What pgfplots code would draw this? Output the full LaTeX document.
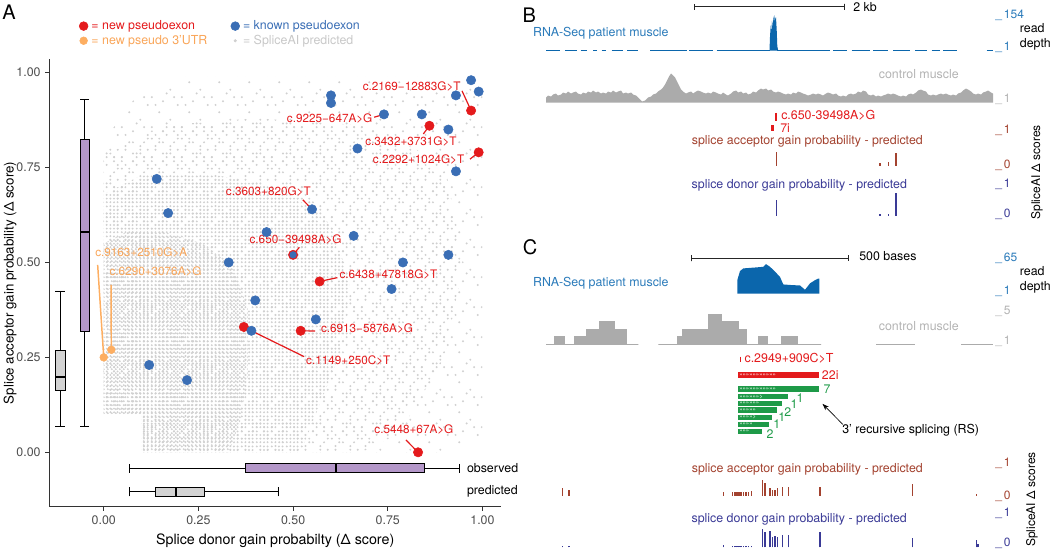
\documentclass[border=0pt]{standalone}
\usepackage{pgfplots}
\pgfplotsset{compat=1.18}
\usepgfplotslibrary{statistics}
\usetikzlibrary{patterns,arrows.meta}
\usepackage{fontspec}
\setmainfont{TeX Gyre Heros}

\definecolor{ptred}{HTML}{E41A1C}
\definecolor{ptblue}{HTML}{3A6EB5}
\definecolor{ptorange}{HTML}{FDAE61}
\definecolor{txtorange}{HTML}{F9A65A}
\definecolor{boxpurple}{HTML}{B497C9}
\definecolor{boxgray}{HTML}{D3D3D3}
\definecolor{dotgray}{HTML}{D0D0D0}
\definecolor{legtxtgray}{HTML}{C8C8C8}
\definecolor{axgray}{HTML}{4D4D4D}
\definecolor{rnatext}{HTML}{2B7BBA}
\definecolor{rnafill}{HTML}{0B66AC}
\definecolor{ctrlfill}{HTML}{ABABAB}
\definecolor{ctrltext}{HTML}{B3B3B3}
\definecolor{acc}{HTML}{A3422F}
\definecolor{don}{HTML}{3A3A96}
\definecolor{gtxred}{HTML}{E31A1C}
\definecolor{exgreen}{HTML}{1E9A48}

\newcommand\ft{\fontsize{9.3}{11}\selectfont}
\newcommand\fsm{\fontsize{9}{10}\selectfont}
\newcommand\fpanel{\fontsize{15}{17}\selectfont}
\newcommand\flab{\fontsize{10.7}{12}\selectfont}
\newcommand\fann{\fontsize{8.8}{10}\selectfont}
\newcommand\fchev{\fontsize{4.5}{4.5}\selectfont}

% grid-dot textures for the SpliceAI predicted cloud (0.01 grid)
\pgfdeclarepatternformonly{gdense}{\pgfpointorigin}{\pgfqpoint{2.84pt}{2.84pt}}{\pgfqpoint{2.84pt}{2.84pt}}{%
 \pgfpathcircle{\pgfqpoint{1.42pt}{1.42pt}}{0.85pt}\pgfusepath{fill}}
\pgfdeclarepatternformonly{gmed}{\pgfpointorigin}{\pgfqpoint{11.36pt}{11.36pt}}{\pgfqpoint{11.36pt}{11.36pt}}{%
 \pgfpathcircle{\pgfqpoint{1.42pt}{1.42pt}}{0.85pt}
 \pgfpathcircle{\pgfqpoint{4.26pt}{1.42pt}}{0.85pt}
 \pgfpathcircle{\pgfqpoint{9.94pt}{1.42pt}}{0.85pt}
 \pgfpathcircle{\pgfqpoint{1.42pt}{4.26pt}}{0.85pt}
 \pgfpathcircle{\pgfqpoint{4.26pt}{4.26pt}}{0.85pt}
 \pgfpathcircle{\pgfqpoint{7.10pt}{4.26pt}}{0.85pt}
 \pgfpathcircle{\pgfqpoint{9.94pt}{4.26pt}}{0.85pt}
 \pgfpathcircle{\pgfqpoint{4.26pt}{7.10pt}}{0.85pt}
 \pgfpathcircle{\pgfqpoint{7.10pt}{7.10pt}}{0.85pt}
 \pgfpathcircle{\pgfqpoint{9.94pt}{7.10pt}}{0.85pt}
 \pgfpathcircle{\pgfqpoint{1.42pt}{9.94pt}}{0.85pt}
 \pgfpathcircle{\pgfqpoint{7.10pt}{9.94pt}}{0.85pt}
 \pgfpathcircle{\pgfqpoint{9.94pt}{9.94pt}}{0.85pt}
 \pgfusepath{fill}}
\pgfdeclarepatternformonly{gsparse}{\pgfpointorigin}{\pgfqpoint{22.72pt}{22.72pt}}{\pgfqpoint{22.72pt}{22.72pt}}{%
 \pgfpathcircle{\pgfqpoint{1.42pt}{1.42pt}}{0.85pt}
 \pgfpathcircle{\pgfqpoint{12.78pt}{1.42pt}}{0.85pt}
 \pgfpathcircle{\pgfqpoint{18.46pt}{1.42pt}}{0.85pt}
 \pgfpathcircle{\pgfqpoint{9.94pt}{4.26pt}}{0.85pt}
 \pgfpathcircle{\pgfqpoint{15.62pt}{4.26pt}}{0.85pt}
 \pgfpathcircle{\pgfqpoint{4.26pt}{7.10pt}}{0.85pt}
 \pgfpathcircle{\pgfqpoint{21.30pt}{7.10pt}}{0.85pt}
 \pgfpathcircle{\pgfqpoint{4.26pt}{9.94pt}}{0.85pt}
 \pgfpathcircle{\pgfqpoint{15.62pt}{9.94pt}}{0.85pt}
 \pgfpathcircle{\pgfqpoint{9.94pt}{12.78pt}}{0.85pt}
 \pgfpathcircle{\pgfqpoint{18.46pt}{12.78pt}}{0.85pt}
 \pgfpathcircle{\pgfqpoint{1.42pt}{15.62pt}}{0.85pt}
 \pgfpathcircle{\pgfqpoint{7.10pt}{15.62pt}}{0.85pt}
 \pgfpathcircle{\pgfqpoint{21.30pt}{15.62pt}}{0.85pt}
 \pgfpathcircle{\pgfqpoint{12.78pt}{18.46pt}}{0.85pt}
 \pgfpathcircle{\pgfqpoint{1.42pt}{21.30pt}}{0.85pt}
 \pgfpathcircle{\pgfqpoint{9.94pt}{21.30pt}}{0.85pt}
 \pgfpathcircle{\pgfqpoint{18.46pt}{21.30pt}}{0.85pt}
 \pgfusepath{fill}}
\pgfdeclarepatternformonly{gvsparse}{\pgfpointorigin}{\pgfqpoint{22.72pt}{22.72pt}}{\pgfqpoint{22.72pt}{22.72pt}}{%
 \pgfpathcircle{\pgfqpoint{1.42pt}{1.42pt}}{0.85pt}
 \pgfpathcircle{\pgfqpoint{15.62pt}{7.10pt}}{0.85pt}
 \pgfpathcircle{\pgfqpoint{7.10pt}{12.78pt}}{0.85pt}
 \pgfpathcircle{\pgfqpoint{21.30pt}{18.46pt}}{0.85pt}
 \pgfpathcircle{\pgfqpoint{9.94pt}{21.30pt}}{0.85pt}
 \pgfpathcircle{\pgfqpoint{18.46pt}{1.42pt}}{0.85pt}
 \pgfpathcircle{\pgfqpoint{4.26pt}{18.46pt}}{0.85pt}
 \pgfpathcircle{\pgfqpoint{12.78pt}{4.26pt}}{0.85pt}
 \pgfusepath{fill}}

\pgfplotsset{trk/.style={scale only axis, hide axis, clip=false, xmin=546, xmax=993, width=335.25pt, anchor=south west}}

\begin{document}
\begin{tikzpicture}
\useasboundingbox (0,0) rectangle (787.5pt,-411.75pt);

% ================= Panel A =================
\begin{axis}[
  at={(36.98pt,-380.03pt)}, anchor=south west,
  scale only axis, width=338.78pt, height=335.55pt,
  xmin=-0.1437, xmax=1.049, ymin=-0.1433, ymax=1.035,
  axis x line*=bottom, axis y line*=left,
  axis line style={-, black!80, line width=1pt},
  xtick={0,0.25,0.5,0.75,1}, xticklabels={0.00,0.25,0.50,0.75,1.00},
  ytick={0,0.25,0.5,0.75,1}, yticklabels={0.00,0.25,0.50,0.75,1.00},
  tick align=outside, major tick length=3pt,
  tick style={black!80, line width=0.6pt},
  ticklabel style={font=\ft, text=axgray},
  xlabel={Splice donor gain probabilty (Δ score)},
  ylabel={Splice acceptor gain probability (Δ score)},
  label style={font=\flab},
  every axis y label/.style={at={(axis description cs:-0.087,0.5)}, rotate=90, anchor=center},
  clip=false,
  legend columns=2, legend cell align=left,
  legend image code/.code={\path[draw=none,fill=none] (0cm,-0.02cm) rectangle (0.32cm,0.02cm); \draw[mark repeat=2,mark phase=2,#1] plot coordinates {(0.16cm,0cm) (0.16cm,0cm) (0.16cm,0cm)};},
  legend style={at={(axis description cs:0.062,1.091)}, anchor=north west, draw=none, fill=none,
     font=\ft, inner sep=0pt, row sep=0pt, nodes={inner sep=1.3pt},
     /tikz/every even column/.append style={column sep=15pt}},
]
\addlegendimage{only marks, mark=*, color=ptred, mark size=3.3pt}
\addlegendentry{\color{ptred}= new pseudoexon}
\addlegendimage{only marks, mark=*, color=ptblue, mark size=3.3pt}
\addlegendentry{\color{ptblue}= known pseudoexon}
\addlegendimage{only marks, mark=*, color=ptorange, mark size=2.9pt}
\addlegendentry{\color{txtorange}= new pseudo 3’UTR}
\addlegendimage{only marks, mark=*, color=dotgray, mark size=1pt}
\addlegendentry{\color{legtxtgray}= SpliceAI predicted}

% SpliceAI predicted cloud (density zones)
\addplot[draw=none, pattern=gvsparse, pattern color=dotgray] coordinates {(0,0.1) (0,0.82) (0.08,0.93) (0.2,0.99) (1.0,0.99) (1.0,0.03) (0.9,0.0) (0.1,0.0) (0.1,0.1)} -- cycle;
\addplot[draw=none, pattern=gsparse, pattern color=dotgray] coordinates {(0,0.1) (0,0.78) (0.15,0.86) (0.4,0.88) (0.7,0.86) (0.9,0.76) (0.95,0.5) (0.9,0.25) (0.78,0.05) (0.68,0.0) (0.1,0.0) (0.1,0.1)} -- cycle;
\addplot[draw=none, pattern=gmed, pattern color=dotgray] coordinates {(0,0.1) (0,0.68) (0.1,0.73) (0.3,0.73) (0.48,0.69) (0.6,0.6) (0.65,0.45) (0.62,0.25) (0.56,0.1) (0.52,0.0) (0.1,0.0) (0.1,0.1)} -- cycle;
\addplot[draw=none, pattern=gdense, pattern color=dotgray] coordinates {(0,0.1) (0,0.55) (0.06,0.58) (0.16,0.58) (0.26,0.55) (0.34,0.49) (0.38,0.38) (0.38,0.2) (0.36,0.08) (0.33,0.0) (0.1,0.0) (0.1,0.1)} -- cycle;

% box plots
\addplot[draw=black, fill=boxgray, line width=0.6pt, boxplot prepared={draw direction=y, draw position=-0.115,
  lower whisker=0.068, lower quartile=0.164, median=0.198, upper quartile=0.268, upper whisker=0.425,
  box extend=0.0256, whisker extend=0.0256, every median/.style={line width=1.3pt}}] coordinates {};
\addplot[draw=black, fill=boxpurple, line width=0.6pt, boxplot prepared={draw direction=y, draw position=-0.050,
  lower whisker=0.068, lower quartile=0.318, median=0.580, upper quartile=0.825, upper whisker=0.930,
  box extend=0.0238, whisker extend=0.0238, every median/.style={line width=1.3pt}}] coordinates {};
\addplot[draw=black, fill=boxpurple, line width=0.6pt, boxplot prepared={draw direction=x, draw position=-0.042,
  lower whisker=0.067, lower quartile=0.373, median=0.613, upper quartile=0.847, upper whisker=0.940,
  box extend=0.0229, whisker extend=0.0229, every median/.style={line width=1.3pt}}] coordinates {};
\addplot[draw=black, fill=boxgray, line width=0.6pt, boxplot prepared={draw direction=x, draw position=-0.104,
  lower whisker=0.067, lower quartile=0.137, median=0.190, upper quartile=0.267, upper whisker=0.460,
  box extend=0.0245, whisker extend=0.0245, every median/.style={line width=1.3pt}}] coordinates {};
\node[anchor=west, font=\ft, inner sep=0pt] at (axis cs:0.9585,-0.042) {observed};
\node[anchor=west, font=\ft, inner sep=0pt] at (axis cs:0.9585,-0.104) {predicted};

% label leader lines
\draw[ptred, line width=0.9pt] (axis cs:0.946,0.952) -- (axis cs:0.97,0.90);
\draw[ptred, line width=0.9pt] (axis cs:0.714,0.8825) -- (axis cs:0.74,0.89);
\draw[ptred, line width=0.9pt] (axis cs:0.844,0.8385) -- (axis cs:0.86,0.86);
\draw[ptred, line width=0.9pt] (axis cs:0.967,0.772) -- (axis cs:0.99,0.79);
\draw[ptred, line width=0.9pt] (axis cs:0.5255,0.665) -- (axis cs:0.55,0.64);
\draw[ptred, line width=0.9pt] (axis cs:0.5165,0.540) -- (axis cs:0.50,0.52);
\draw[ptred, line width=0.9pt] (axis cs:0.57,0.45) -- (axis cs:0.617,0.46);
\draw[ptred, line width=0.9pt] (axis cs:0.52,0.32) -- (axis cs:0.558,0.3195);
\draw[ptred, line width=0.9pt] (axis cs:0.39,0.32) -- (axis cs:0.529,0.252);
\draw[ptred, line width=0.9pt] (axis cs:0.798,0.0324) -- (axis cs:0.83,0.0);
\draw[ptorange, line width=1.1pt] (axis cs:-0.016,0.4934) -- (axis cs:0.0,0.25);
\draw[ptorange, line width=1.1pt] (axis cs:0.0193,0.4407) -- (axis cs:0.02,0.27);

% points
\addplot[only marks, mark=*, color=ptorange, mark size=2.9pt] coordinates {(0.00,0.25) (0.02,0.27)};
\addplot[only marks, mark=*, color=ptred, mark size=3.5pt] coordinates {
 (0.97,0.90) (0.86,0.86) (0.99,0.79) (0.50,0.52) (0.57,0.45) (0.37,0.33) (0.52,0.32) (0.83,0.00)};
\addplot[only marks, mark=*, color=ptblue, mark size=3.5pt] coordinates {
 (0.97,0.98) (0.99,0.95) (0.93,0.94) (0.60,0.94) (0.60,0.92) (0.74,0.89) (0.84,0.89) (0.91,0.85)
 (0.67,0.80) (0.93,0.74) (0.14,0.72) (0.17,0.63) (0.55,0.64) (0.43,0.58) (0.66,0.57) (0.33,0.50)
 (0.79,0.50) (0.91,0.52) (0.76,0.43) (0.40,0.40) (0.56,0.35) (0.39,0.32) (0.12,0.23) (0.22,0.19)};
\addplot[only marks, mark=*, color=ptblue, mark size=2.5pt] coordinates {(0.50,0.52)};

% labels
\begin{scope}[every node/.style={font=\fann, inner sep=0pt}]
\node[anchor=east, text=ptred] at (axis cs:0.943,0.963) {c.2169−12883G>T};
\node[anchor=east, text=ptred] at (axis cs:0.710,0.880) {c.9225−647A>G};
\node[anchor=west, text=ptred] at (axis cs:0.690,0.818) {c.3432+3731G>T};
\node[anchor=west, text=ptred] at (axis cs:0.710,0.770) {c.2292+1024G>T};
\node[anchor=west, text=ptred] at (axis cs:0.322,0.686) {c.3603+820G>T};
\node[anchor=west, text=ptred] at (axis cs:0.3845,0.561) {c.650−39498A>G};
\node[anchor=west, text=ptred] at (axis cs:0.622,0.467) {c.6438+47818G>T};
\node[anchor=west, text=ptred] at (axis cs:0.573,0.3267) {c.6913−5876A>G};
\node[anchor=west, text=ptred] at (axis cs:0.534,0.241) {c.1149+250C>T};
\node[anchor=west, text=ptred] at (axis cs:0.714,0.0606) {c.5448+67A>G};
\node[anchor=west, text=txtorange] at (axis cs:-0.023,0.527) {c.9163+2510G>A};
\node[anchor=west, text=txtorange] at (axis cs:0.0148,0.4758) {c.6290+3076A>G};
\end{scope}
\end{axis}

% ================= Panel B tracks =================
\begin{axis}[trk, at={(409.5pt,-38.03pt)}, height=26.63pt, ymin=0, ymax=154]
\addplot[draw=rnafill, line width=1.1pt, unbounded coords=jump] coordinates {
 (546,2)(560,2)(560,nan) (565,2)(576.7,2)(576.7,nan) (580.7,2)(586.7,2)(586.7,nan)
 (593.3,2)(597.3,2)(597.3,nan) (601.7,2)(605.7,2)(605.7,nan) (611.7,2)(623.3,2)(623.3,nan)
 (627.3,2)(638.3,2)(638.3,nan) (650,2)(686.7,2)(686.7,nan) (689.3,2)(713.3,2)(713.3,nan)
 (716.7,2)(770,2)(770,nan) (777.3,2)(830,2)(830,nan) (833.3,2)(846.7,2)(846.7,nan)
 (851.7,2)(870,2)(870,nan) (873.3,2)(888.3,2)(888.3,nan) (893.3,2)(910,2)(910,nan)
 (915,2)(926.7,2)(926.7,nan) (931.7,2)(940,2)(940,nan) (943.3,2)(956.7,2)(956.7,nan)
 (986.7,2)(993.3,2)};
\addplot[fill=rnafill, draw=none] coordinates {(769.5,0)(770,60)(770.7,110)(771.3,80)(772,130)(772.7,100)(773.3,150)(774,120)(774.7,154)(775.3,135)(776,145)(776.7,90)(777.3,20)(778,5)(778.5,0)} -- cycle;
\end{axis}

\begin{axis}[trk, at={(409.5pt,-76.88pt)}, height=30pt, ymin=0, ymax=40]
\addplot[fill=ctrlfill, draw=none] coordinates {(546,0)
 (546,5)(548,7)(551,6)(553,8)(556,9)(558,7)(561,8)(563,10)(566,9)(568,11)(571,9)(573,10)(576,11)(578,9)(581,8)(583,10)(586,9)(588,11)(591,10)(593,12)(596,10)(598,11)(601,9)(603,10)(606,9)(608,11)(611,10)(613,12)(616,10)(618,11)(621,12)(623,9)(626,10)(628,9)(631,10)(633,8)(636,7)(638,5)(640,3)(642,1)(645,2)(648,5)(651,6)(653,8)(656,9)(658,11)(661,13)(663,15)(665,18)(667,22)(669,26)(671,29)(673,27)(675,25)(677,21)(679,17)(681,13)(683,11)(686,9)(688,10)(691,11)(693,9)(696,11)(698,12)(701,11)(703,10)(706,9)(708,10)(711,9)(713,11)(716,10)(718,9)(721,8)(723,10)(726,8)(728,7)(731,9)(733,11)(736,12)(738,10)(741,11)(743,9)(746,10)(748,8)(751,9)(753,11)(756,10)(758,12)(761,14)(763,13)(766,14)(768,12)(771,13)(773,11)(776,10)(778,11)(781,10)(783,9)(786,8)(788,9)(791,8)(793,10)(796,9)(798,11)(801,10)(803,9)(806,8)(808,7)(811,8)(813,9)(816,8)(818,9)(821,8)(823,7)(826,9)(828,10)(831,9)(833,8)(836,9)(838,7)(841,6)(843,7)(846,6)(848,8)(851,9)(853,8)(856,9)(858,11)(861,10)(863,12)(866,11)(868,8)(871,7)(873,8)(876,6)(878,7)(881,6)(883,7)(886,8)(888,9)(891,8)(893,9)(896,8)(898,7)(901,6)(903,7)(906,6)(908,8)(911,9)(913,8)(916,10)(918,12)(921,13)(923,12)(926,11)(928,8)(931,7)(933,8)(936,7)(938,8)(941,9)(943,8)(946,9)(948,8)(951,7)(953,8)(956,7)(958,9)(961,10)(963,12)(966,14)(968,13)(971,11)(973,9)(976,8)(978,9)(981,8)(983,10)(986,11)(988,12)(991,10)(993,9)
 (993,0)} -- cycle;
\end{axis}

\begin{axis}[trk, at={(409.5pt,-124.5pt)}, height=27pt, ymin=0, ymax=1]
\addplot[ycomb, draw=acc, line width=0.8pt] coordinates {(776.7,0.40) (880,0.08) (888.3,0.10) (896,0.35)};
\end{axis}
\begin{axis}[trk, at={(409.5pt,-162pt)}, height=24pt, ymin=0, ymax=1]
\addplot[ycomb, draw=don, line width=0.8pt] coordinates {(776.7,0.50) (880,0.06) (888.3,0.06) (896,0.71)};
\end{axis}

% ================= Panel C tracks =================
\begin{axis}[trk, at={(409.5pt,-220.13pt)}, height=26.03pt, ymin=0, ymax=65]
\addplot[fill=rnafill, draw=none] coordinates {(737.3,0)(737.3,25)(740,42)(743.3,47)(750,48)(757,49)(763.3,50)(766,55)(770,50)(775,41)(780,31)(783.3,17)(790,16)(800,15)(805,7)(810,19)(815,25)(818.3,28)(819.3,28)(819.3,0)} -- cycle;
\end{axis}

\begin{axis}[trk, at={(409.5pt,-258.23pt)}, height=22.5pt, ymin=1, ymax=5]
\addplot[fill=ctrlfill, draw=ctrlfill, line width=0.9pt] coordinates {(546,1)(555,1)(555,2)(564,2)(564,1)(575,1)(575,2)(586.7,2)(586.7,3)(599.3,3)(599.3,4)(614,4)(614,3)(626,3)(626,1)(638.3,1)} -- cycle;
\addplot[fill=ctrlfill, draw=ctrlfill, line width=0.9pt] coordinates {(658.3,1)(677.3,1)(677.3,2)(682.7,2)(682.7,3)(708.3,3)(708.3,5)(721.7,5)(721.7,4)(738.3,4)(738.3,3)(746.7,3)(746.7,1)(758.3,1)(758.3,2)(767.7,2)(767.7,1)(781.7,1)(781.7,2)(797.3,2)(797.3,1)(821,1)} -- cycle;
\addplot[draw=ctrlfill, line width=0.9pt] coordinates {(876,1)(915,1)};
\addplot[draw=ctrlfill, line width=0.9pt] coordinates {(961,1)(992.7,1)};
\end{axis}

\begin{axis}[trk, at={(409.5pt,-371.78pt)}, height=24.3pt, ymin=0, ymax=1]
\addplot[ycomb, draw=acc, line width=0.8pt] coordinates {(562.3,0.23)(569,0.19)(723.3,0.12)(732.7,0.12)(735,0.12)(737,0.12)(739,0.12)(741,0.12)(743.3,0.12)(746,0.12)(748.3,0.12)(751.7,0.15)(762.7,0.48)(765,0.38)(770,0.23)(772.3,0.18)(775,0.19)(777.3,0.23)(782.7,0.28)(788.3,0.28)(820,0.28)(912.7,0.36)(976.7,0.05)};
\end{axis}
\begin{axis}[trk, at={(409.5pt,-410.5pt)}, height=24.75pt, ymin=0, ymax=1]
\addplot[ycomb, draw=don, line width=0.8pt] coordinates {(562.3,0.03)(569,0.03)(723.3,0.07)(732.7,0.03)(735,0.03)(737,0.03)(739,0.03)(741,0.03)(743.3,0.03)(746,0.03)(748.3,0.03)(751.7,0.04)(762.7,0.55)(765,0.45)(770,0.50)(772.3,0.30)(775,0.35)(777.3,0.30)(782.7,0.37)(788.3,0.37)(820,0.45)(912.7,0.27)(976.7,0.23)(978,0.10)};
\end{axis}

% ================= annotation canvas (px coordinates) =================
\begin{axis}[scale only axis, hide axis, clip=false, xmin=520, xmax=1050, ymin=-549, ymax=0,
  width=397.5pt, height=411.75pt, at={(390pt,-411.75pt)}, anchor=south west]
% scale bars
\addplot[black!85, line width=0.7pt] coordinates {(694.7,-3.8)(694.7,-9.8)(694.7,-6.8)(844.5,-6.8)(844.5,-3.8)(844.5,-9.8)};
\addplot[black!85, line width=0.7pt] coordinates {(691.4,-255.1)(691.4,-261.1)(691.4,-258.1)(848.5,-258.1)(848.5,-255.1)(848.5,-261.1)};
% panel B variant + exon
\addplot[gtxred, line width=1pt] coordinates {(775.9,-113)(775.9,-121)};
\addplot[fill=gtxred, draw=none] coordinates {(770.8,-125)(774.2,-125)(774.2,-130.8)(770.8,-130.8)} -- cycle;
% panel C variant + exon + RS transcripts
\addplot[gtxred, line width=1pt] coordinates {(740.7,-356.7)(740.7,-362.3)};
\addplot[fill=gtxred, draw=none] coordinates {(737.7,-372.3)(819,-372.3)(819,-378.3)(737.7,-378.3)} -- cycle;
\addplot[fill=exgreen, draw=none] coordinates {(737.7,-386)(819,-386)(819,-392.3)(737.7,-392.3)} -- cycle;
\addplot[fill=exgreen, draw=none] coordinates {(737.7,-393.7)(788.3,-393.7)(788.3,-399.3)(737.7,-399.3)} -- cycle;
\addplot[fill=exgreen, draw=none] coordinates {(737.7,-400.7)(782.3,-400.7)(782.3,-406)(737.7,-406)} -- cycle;
\addplot[fill=exgreen, draw=none] coordinates {(737.7,-407.3)(776.7,-407.3)(776.7,-413)(737.7,-413)} -- cycle;
\addplot[fill=exgreen, draw=none] coordinates {(737.7,-414.7)(771.7,-414.7)(771.7,-420)(737.7,-420)} -- cycle;
\addplot[fill=exgreen, draw=none] coordinates {(737.7,-421.7)(769.3,-421.7)(769.3,-427)(737.7,-427)} -- cycle;
\addplot[fill=exgreen, draw=none] coordinates {(737.7,-428.7)(761.7,-428.7)(761.7,-434.3)(737.7,-434.3)} -- cycle;
\begin{scope}[every node/.style={font=\fchev, text=white, inner sep=0pt, anchor=west}]
\node at (axis cs:738.6,-128) {>};
\node at (axis cs:739,-375.3) {>>>>>>>>>>>>>>>>>>>>>>};
\node at (axis cs:739,-389.2) {>>>>>>>>>>>>>>>>>>>>>>};
\node at (axis cs:739,-396.5) {>>>>>>>>>>>>>};
\node at (axis cs:739,-403.4) {>>>>>>>>>>>>};
\node at (axis cs:739,-410.2) {>>>>>>>>>>};
\node at (axis cs:739,-417.4) {>>>>>>>>>};
\node at (axis cs:739,-424.4) {>>>>>>>>};
\node at (axis cs:739,-431.5) {>>>>>>};
\end{scope}
\begin{scope}[every node/.style={font=\ft, text=exgreen, inner sep=0pt}]
\node at (axis cs:827,-389.3) {7};
\node at (axis cs:800,-397.7) {1};
\node at (axis cs:794,-404.3) {1};
\node at (axis cs:787.7,-411.7) {2};
\node at (axis cs:781.7,-417) {1};
\node at (axis cs:776.7,-424.3) {1};
\node at (axis cs:770,-433.7) {2};
\end{scope}
\draw[-{Stealth[length=5pt,width=3.5pt]}, line width=0.5pt] (axis cs:842.8,-424.4) -- (axis cs:822.5,-403.8);
\end{axis}

% ================= texts (px coordinates) =================
\begin{scope}[x=0.75pt, y=-0.75pt, every node/.style={inner sep=0pt}]
\node[font=\fpanel] at (9,12) {A};
\node[font=\fpanel] at (529.3,15.2) {B};
\node[font=\fpanel] at (530.1,247) {C};
% B
\node[anchor=west,font=\ft] at (853,6.8) {2 kb};
\node[anchor=west,font=\ft,text=rnatext] at (532.8,33.1) {RNA-Seq patient muscle};
\node[anchor=west,font=\fsm,text=rnatext] at (995,15.2) {\_\,154};
\node[anchor=west,font=\fsm,text=rnatext] at (995,47.3) {\_\,1};
\node[anchor=west,font=\ft] at (1019.6,27.7) {read};
\node[anchor=west,font=\ft] at (1019.6,43.9) {depth};
\node[font=\ft,text=ctrltext] at (918.8,73.7) {control muscle};
\node[anchor=west,font=\fsm,text=ctrltext] at (995,99) {\_\,1};
\node[anchor=west,font=\ft,text=gtxred] at (781,115.6) {c.650-39498A>G};
\node[anchor=west,font=\ft,text=gtxred] at (780,127.8) {7i};
\node[font=\ft,text=acc] at (807.3,141.3) {splice acceptor gain probability - predicted};
\node[anchor=west,font=\fsm,text=acc] at (995,130.1) {\_\,1};
\node[anchor=west,font=\fsm,text=acc] at (995,165.6) {\_\,0};
\node[font=\ft,text=don] at (799.3,185.2) {splice donor gain probability - predicted};
\node[anchor=west,font=\fsm,text=don] at (995,184.2) {\_\,1};
\node[anchor=west,font=\fsm,text=don] at (995,214.6) {\_\,0};
\node[rotate=90,font=\fsm] at (1037,172.4) {SpliceAI Δ scores};
% C
\node[anchor=west,font=\ft] at (859,256.1) {500 bases};
\node[anchor=west,font=\ft,text=rnatext] at (532.8,283.1) {RNA-Seq patient muscle};
\node[anchor=west,font=\fsm,text=rnatext] at (995,258.8) {\_\,65};
\node[anchor=west,font=\fsm,text=rnatext] at (995,290.9) {\_\,1};
\node[anchor=west,font=\ft] at (1019.6,271.3) {read};
\node[anchor=west,font=\ft] at (1019.6,286.9) {depth};
\node[anchor=west,font=\fsm,text=ctrltext] at (995,311.2) {\_\,5};
\node[anchor=west,font=\fsm,text=ctrltext] at (995,341.6) {\_\,1};
\node[font=\ft,text=ctrltext] at (918.8,325.7) {control muscle};
\node[anchor=west,font=\ft,text=gtxred] at (744.3,358.3) {c.2949+909C>T};
\node[anchor=west,font=\ft,text=gtxred] at (821.7,375.3) {22i};
\node[anchor=west,font=\ft] at (842,430) {3’ recursive splicing (RS)};
\node[font=\ft,text=acc] at (807.3,469) {splice acceptor gain probability - predicted};
\node[anchor=west,font=\fsm,text=acc] at (995,463.3) {\_\,1};
\node[anchor=west,font=\fsm,text=acc] at (995,496.1) {\_\,0};
\node[font=\ft,text=don] at (799.2,519) {splice donor gain probability - predicted};
\node[anchor=west,font=\fsm,text=don] at (995,513.5) {\_\,1};
\node[anchor=west,font=\fsm,text=don] at (995,543.5) {\_\,0};
\node[rotate=90,font=\fsm] at (1032,499.5) {SpliceAI Δ scores};
\end{scope}
\end{tikzpicture}
\end{document}
